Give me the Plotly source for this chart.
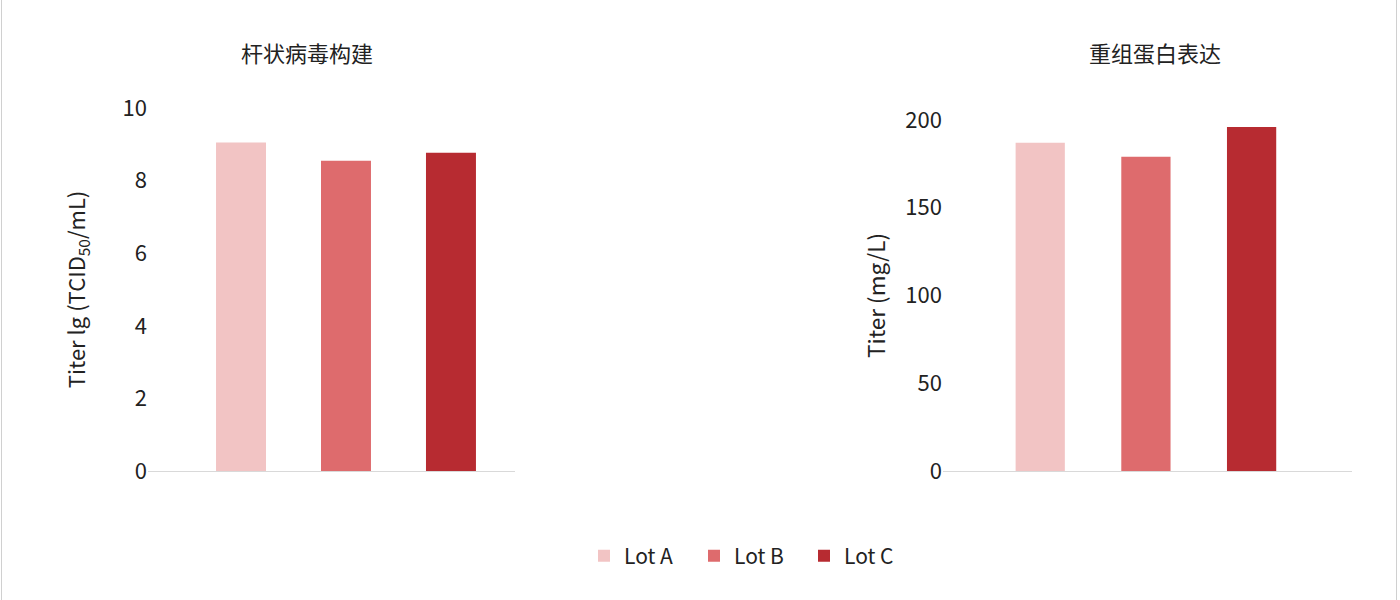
import plotly.graph_objects as go

lots = ["Lot A", "Lot B", "Lot C"]
colors = ["#F2C4C4", "#DE6B6D", "#B72B31"]
baculo_titer = [9.05, 8.55, 8.77]
protein_titer = [187, 179, 196]
panel_titles = ["杆状病毒构建", "重组蛋白表达"]
y_titles = ["Titer lg (TCID<sub>50</sub>/mL)", "Titer (mg/L)"]

FONT = "Noto Sans CJK SC, Noto Sans, sans-serif"
TXT = "#222222"
W, H = 1400, 600

fig = go.Figure()
for i, lot in enumerate(lots):
    fig.add_trace(go.Bar(x=[lot], y=[baculo_titer[i]], name=lot, marker_color=colors[i],
                         marker_line_width=0, width=0.476, xaxis="x", yaxis="y",
                         legendgroup=lot, showlegend=True))
    fig.add_trace(go.Bar(x=[lot], y=[protein_titer[i]], name=lot, marker_color=colors[i],
                         marker_line_width=0, width=0.466, xaxis="x2", yaxis="y2",
                         legendgroup=lot, showlegend=False))

axis_common = dict(showgrid=False, zeroline=False, ticks="", showline=False,
                   tickfont=dict(size=22, color=TXT, family=FONT))

fig.update_layout(
    width=W, height=H,
    margin=dict(l=0, r=0, t=0, b=0, autoexpand=False),
    paper_bgcolor="#FFFFFF", plot_bgcolor="#FFFFFF",
    font=dict(family=FONT, color=TXT, size=22),
    barmode="overlay",
    xaxis=dict(domain=[148/W, 515/W], anchor="y", range=[-0.886, 2.61],
               showticklabels=False, showline=True, linecolor="#D9D9D9", linewidth=1,
               showgrid=False, zeroline=False, ticks=""),
    yaxis=dict(domain=[1-471/H, 1-108/H], anchor="x", range=[0, 10], dtick=2,
               ticklabelstandoff=0,
               title=dict(text=y_titles[0], standoff=30, font=dict(size=22, color=TXT)),
               **axis_common),
    xaxis2=dict(domain=[943/W, 1352/W], anchor="y2", range=[-0.92, 2.95],
                showticklabels=False, showline=True, linecolor="#D9D9D9", linewidth=1,
                showgrid=False, zeroline=False, ticks=""),
    yaxis2=dict(domain=[1-471/H, 1-120/H], anchor="x2", range=[0, 200], dtick=50,
                ticklabelstandoff=0,
                title=dict(text=y_titles[1], standoff=13, font=dict(size=22.5, color=TXT)),
                **axis_common),
    legend=dict(orientation="h", x=749/W, xanchor="center", y=1-556/H, yanchor="middle",
                font=dict(size=21, color=TXT), itemwidth=30, traceorder="normal",
                entrywidth=65, entrywidthmode="pixels"),
    showlegend=True,
    annotations=[
        dict(text=panel_titles[0], x=307/W, y=1-52/H, xref="paper", yref="paper",
             showarrow=False, font=dict(size=22, color=TXT), xanchor="center", yanchor="middle"),
        dict(text=panel_titles[1], x=1155/W, y=1-52/H, xref="paper", yref="paper",
             showarrow=False, font=dict(size=22, color=TXT), xanchor="center", yanchor="middle"),
    ],
    shapes=[
        dict(type="line", xref="paper", yref="paper", x0=1.5/W, x1=1.5/W, y0=0, y1=1,
             line=dict(color="#D0D0D0", width=1)),
        dict(type="line", xref="paper", yref="paper", x0=1396.5/W, x1=1396.5/W, y0=0, y1=1,
             line=dict(color="#D0D0D0", width=1)),
    ],
)

fig.write_html("out.html", config={"displayModeBar": False},
               post_script="document.body.style.margin='0';document.body.style.overflow='hidden';")
